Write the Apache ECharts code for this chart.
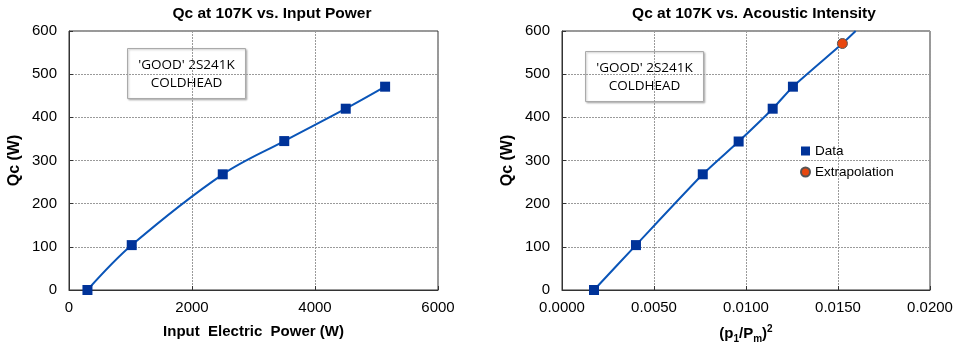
<!DOCTYPE html>
<html><head><meta charset="utf-8">
<script src="https://cdn.jsdelivr.net/npm/echarts@6/dist/echarts.min.js"></script>
<style>html,body{margin:0;padding:0;background:#fff}#c{width:959px;height:345px}</style>
</head><body><div id="c"></div>
<script>
// Left chart: Qc vs input electric power
const powerW = [300, 1020, 2500, 3500, 4500, 5140];
const qcLeft = [0, 104, 268, 345, 420, 471];
// Right chart: Qc vs acoustic intensity (p1/Pm)^2
const intensity = [0.00174, 0.00402, 0.00765, 0.0096, 0.01145, 0.01255];
const qcRight = [0, 104, 268, 344, 420, 471];
const extrapX = [0.01524];
const extrapY = [571];
// fitted line through data, extrapolation and on to the top of the plot
const trendX = [0.00174, 0.00402, 0.00765, 0.0096, 0.01145, 0.01255, 0.01524, 0.01596];
const trendY = [0, 104, 268, 344, 420, 471, 571, 600];

const FONT = "'Liberation Sans', Arial, sans-serif";
const chart = echarts.init(document.getElementById('c'));
const gridStyle = {show:true, borderColor:'#333', borderWidth:1, backgroundColor:'transparent', containLabel:false, outerBoundsMode:'none'};
const splitLine = {show:true, lineStyle:{color:'#9a9a9a', type:[2,1], width:1}};
function yAxis(gi){
  return {type:'value', gridIndex:gi, min:0, max:600, interval:100,
    name:'Qc (W)', nameLocation:'middle', nameGap:46,
    nameTextStyle:{fontFamily:FONT, fontSize:16, fontWeight:'bold', color:'#000'},
    axisLine:{show:true, lineStyle:{color:'#333'}},
    axisTick:{show:true, inside:true, length:4, lineStyle:{color:'#333'}},
    axisLabel:{fontFamily:FONT, fontSize:15, color:'#000', margin:12},
    splitLine};
}
const pts = (xs, ys) => xs.map((x,i)=>[x, ys[i]]);
const boxText = (x,y)=>({type:'group', left:x, top:y, children:[
  {type:'rect', shape:{x:0,y:0,width:118,height:50}, style:{fill:'#fff', stroke:'#aaa', lineWidth:1, shadowColor:'rgba(0,0,0,0.25)', shadowBlur:2, shadowOffsetX:1, shadowOffsetY:1}},
  {type:'text', x:59, y:26, style:{text:"'GOOD' 2S241K\nCOLDHEAD", fontFamily:"'Open Sans', sans-serif", fontSize:13.5, lineHeight:18, fill:'#000', align:'center', verticalAlign:'middle'}}
]});

chart.setOption({
  animation:false,
  title:[
    {text:'Qc at 107K vs. Input Power', left:267, top:1, textAlign:'center', textStyle:{fontFamily:FONT, fontSize:15.5, fontWeight:'bold', color:'#000'}},
    {text:'Qc at 107K vs. Acoustic Intensity', left:749, top:1, textAlign:'center', textStyle:{fontFamily:FONT, fontSize:15.5, fontWeight:'bold', color:'#000'}}
  ],
  grid:[
    Object.assign({left:69, top:31, width:369, height:259}, gridStyle),
    Object.assign({left:562, top:31, width:368, height:259}, gridStyle)
  ],
  xAxis:[
    {type:'value', gridIndex:0, min:0, max:6000, interval:2000,
      name:'Input  Electric  Power (W)', nameLocation:'middle', nameGap:34,
      nameTextStyle:{fontFamily:FONT, fontSize:15, fontWeight:'bold', color:'#000'},
      axisLine:{show:true, lineStyle:{color:'#333'}},
      axisTick:{show:true, inside:true, length:4, lineStyle:{color:'#333'}},
      axisLabel:{fontFamily:FONT, fontSize:15, color:'#000', margin:10, formatter:v=>String(v)},
      splitLine},
    {type:'value', gridIndex:1, min:0, max:0.02, interval:0.005,
      name:'{b|(p}{s|1}{b|/P}{s|m}{b|)}{p|2}', nameLocation:'middle', nameGap:34,
      nameTextStyle:{fontFamily:FONT, fontSize:15, fontWeight:'bold', color:'#000',
        rich:{
          b:{fontFamily:FONT, fontSize:15, fontWeight:'bold', color:'#000', lineHeight:20, verticalAlign:'middle'},
          s:{fontFamily:FONT, fontSize:10, fontWeight:'bold', color:'#000', lineHeight:20, verticalAlign:'bottom'},
          p:{fontFamily:FONT, fontSize:10, fontWeight:'bold', color:'#000', lineHeight:20, verticalAlign:'top'}
        }},
      axisLine:{show:true, lineStyle:{color:'#333'}},
      axisTick:{show:true, inside:true, length:4, lineStyle:{color:'#333'}},
      axisLabel:{fontFamily:FONT, fontSize:15, color:'#000', margin:10, formatter:v=>v.toFixed(4)},
      splitLine}
  ],
  yAxis:[yAxis(0), yAxis(1)],
  legend:{data:[{name:'Data', icon:'rect'}, {name:'Extrapolation', icon:'circle'}],
    orient:'vertical', left:795, top:139, itemWidth:9, itemHeight:9, itemGap:7,
    textStyle:{fontFamily:FONT, fontSize:13.5, color:'#000'}},
  graphic:[boxText(127,48), boxText(585,51)],
  series:[
    {name:'Curve', type:'line', xAxisIndex:0, yAxisIndex:0, data:pts(powerW, qcLeft), smooth:0.35,
      symbol:'none', lineStyle:{color:'#0a55b8', width:2}, z:2},
    {name:'Points', type:'scatter', xAxisIndex:0, yAxisIndex:0, data:pts(powerW, qcLeft),
      symbol:'rect', symbolSize:10, itemStyle:{color:'#003399', opacity:1}, z:3},
    {name:'Trend', type:'line', xAxisIndex:1, yAxisIndex:1, data:pts(trendX, trendY), smooth:0.2,
      symbol:'none', lineStyle:{color:'#0a55b8', width:2}, z:2},
    {name:'Data', type:'scatter', xAxisIndex:1, yAxisIndex:1, data:pts(intensity, qcRight),
      symbol:'rect', symbolSize:10, itemStyle:{color:'#003399', opacity:1}, z:3},
    {name:'Extrapolation', type:'scatter', xAxisIndex:1, yAxisIndex:1, data:pts(extrapX, extrapY),
      symbol:'circle', symbolSize:10, itemStyle:{color:'#e8470e', borderColor:'#555', borderWidth:1, opacity:1}, z:4}
  ]
});
</script></body></html>
